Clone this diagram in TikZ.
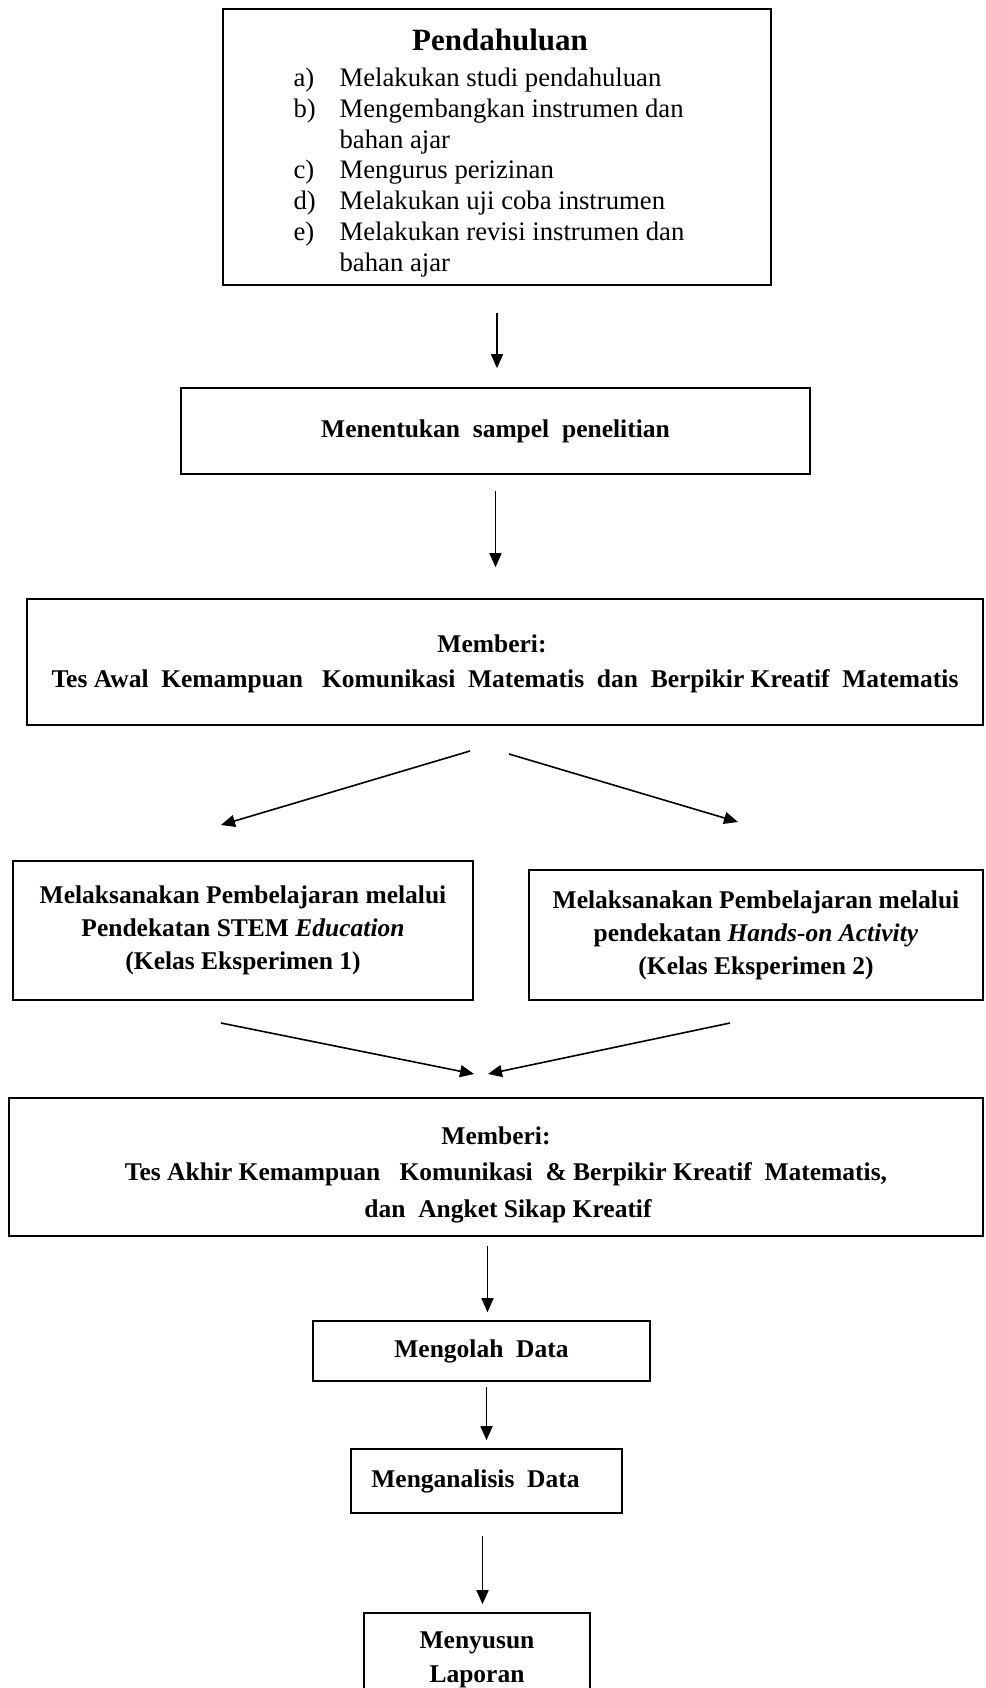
\documentclass[tikz,border=0pt]{standalone}
\usepackage{fontspec}
\setmainfont{Liberation Serif}
\usetikzlibrary{arrows.meta}

\begin{document}
\begin{tikzpicture}[x=1pt, y=-1pt,
	box/.style={rectangle, draw=black, line width=1.6pt, align=center, inner sep=0pt},
	body/.style={font=\fontsize{25.5}{#1}\selectfont\bfseries},
	body/.default=34,
	arr/.style={-{Triangle[length=14pt, width=12pt]}, line width=1.6pt}]

	\useasboundingbox (0,0) rectangle (985,1688);

	\node[box, minimum width=548, minimum height=276, font=\fontsize{26.7}{30.7}\selectfont](intro) at (497,147){%
		\begin{tabular}{@{}p{46pt}@{}l@{}}
			\multicolumn{2}{c}{\rule{0pt}{37pt}\hspace*{22pt}\fontsize{31}{36}\selectfont\bfseries Pendahuluan}\\[5.5pt]
			a) & Melakukan studi pendahuluan\\
			b) & Mengembangkan instrumen dan\\
			   & bahan ajar\\
			c) & Mengurus perizinan\\
			d) & Melakukan uji coba instrumen\\
			e) & Melakukan revisi instrumen dan\\
			   & bahan ajar
		\end{tabular}\hspace*{16pt}};
	\node[box, body, minimum width=629, minimum height=86](sample) at (495.5,431){Menentukan\ \ sampel\ \ penelitian};
	\node[box, body=35, minimum width=956, minimum height=126](pretest) at (505,662){\rule{0pt}{22pt}Memberi:\hspace*{26pt}\\Tes Awal\ \ Kemampuan\ \ \ Komunikasi\ \ Matematis\ \ dan\ \ Berpikir Kreatif\ \ Matematis};
	\node[box, body=33, minimum width=460, minimum height=139](stem) at (243,930.5){Melaksanakan Pembelajaran melalui\\Pendekatan STEM \textit{Education}\\(Kelas Eksperimen 1)};
	\node[box, body=33, minimum width=454, minimum height=130](hands) at (756,935){Melaksanakan Pembelajaran melalui\\pendekatan \textit{Hands-on Activity}\\(Kelas Eksperimen 2)};
	\node[box, body=36.5, minimum width=974, minimum height=138](posttest) at (496,1167){\rule{0pt}{33pt}Memberi:\\\hspace*{20pt}Tes Akhir Kemampuan\ \ \ Komunikasi\ \ \& Berpikir Kreatif\ \ Matematis,\\\hspace*{24pt}dan\ \ Angket Sikap Kreatif};
	\node[box, body, minimum width=337, minimum height=60](olah) at (481.5,1351){Mengolah\ \ Data};
	\node[box, body, minimum width=271, minimum height=64](analisis) at (486.5,1481){Menganalisis\ \ Data\hspace*{22pt}};
	\node[box, body, minimum width=226, minimum height=94](laporan) at (477,1660){Menyusun\\Laporan};

	\coordinate (awalL) at (470,751);
	\coordinate (awalR) at (509,754);
	\coordinate (stemTop) at (221,825);
	\coordinate (handsTop) at (738,822);
	\coordinate (stemBot) at (221,1023);
	\coordinate (handsBot) at (730,1023);
	\coordinate (akhirL) at (474,1074);
	\coordinate (akhirR) at (488,1074);

	\draw [arr, shorten <=27, shorten >=19] (intro.south) -- (intro.south |- sample.north);
	\draw [arr, shorten <=16, shorten >=31] (sample.south) -- (sample.south |- pretest.north);
	\draw [arr] (awalL) -- (stemTop);
	\draw [arr] (awalR) -- (handsTop);
	\draw [arr] (stemBot) -- (akhirL);
	\draw [arr] (handsBot) -- (akhirR);
	\draw [arr, shorten <=9, shorten >=8] ([xshift=6pt]olah.north |- posttest.south) -- ([xshift=6pt]olah.north);
	\draw [arr, shorten <=5, shorten >=8] (analisis.north |- olah.south) -- (analisis.north);
	\draw [arr, shorten <=22, shorten >=8] ([xshift=-4pt]analisis.south) -- ([xshift=-4pt]analisis.south |- laporan.north);

\end{tikzpicture}
\end{document}
